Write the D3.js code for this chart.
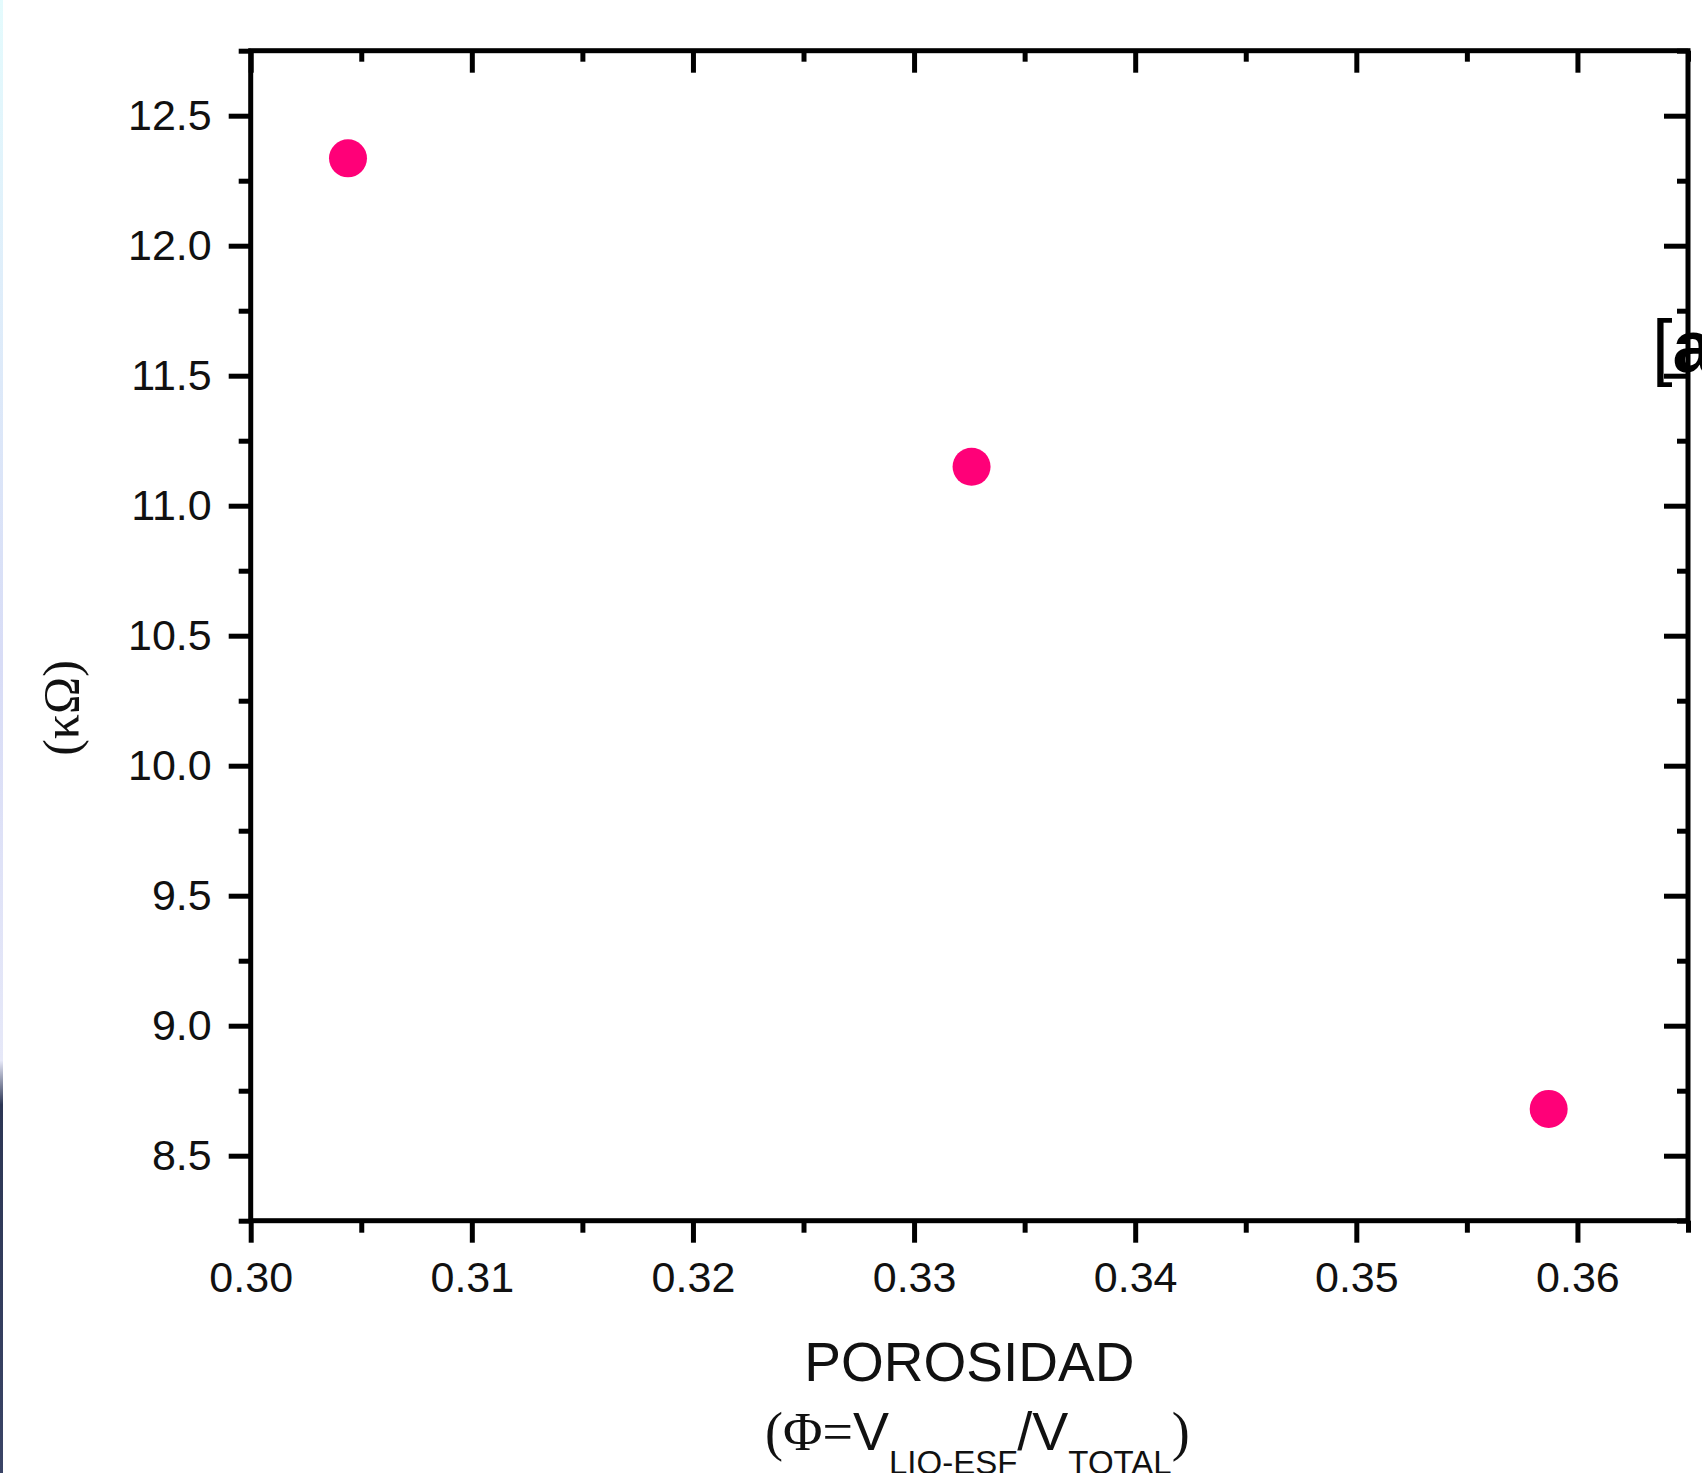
<!DOCTYPE html>
<html>
<head>
<meta charset="utf-8">
<script src="https://cdn.jsdelivr.net/npm/d3@7"></script>
<style>
  body { margin: 0; background: #fff; }
  svg { display: block; }
  .tick text { font-family: "Liberation Sans", Arial, sans-serif; font-size: 43px; fill: #111; }
</style>
</head>
<body>
<div id="chart"></div>
<script>
// porosity vs resistance, three samples
var porosidad = [0.3044, 0.3326, 0.3587];
var resistencia = [12.336, 11.15, 8.68];

// tick values
var xMajor = [0.30, 0.31, 0.32, 0.33, 0.34, 0.35, 0.36];
var xMinor = [0.305, 0.315, 0.325, 0.335, 0.345, 0.355, 0.365];
var yMajor = [8.5, 9.0, 9.5, 10.0, 10.5, 11.0, 11.5, 12.0, 12.5];
var yMinor = [8.25, 8.75, 9.25, 9.75, 10.25, 10.75, 11.25, 11.75, 12.25, 12.75];

var svgWidth = 1702;
var svgHeight = 1473;
var margin = {top: 50.7, right: 14, bottom: 252.3, left: 250.7};
var width = svgWidth - margin.left - margin.right;
var height = svgHeight - margin.top - margin.bottom;

var svg = d3.select("#chart")
    .append("svg")
    .attr("width", svgWidth)
    .attr("height", svgHeight);

// thin strip on the left edge of the picture
var grad = svg.append("defs").append("linearGradient")
    .attr("id", "edge")
    .attr("x1", 0).attr("y1", 0).attr("x2", 0).attr("y2", 1);
grad.append("stop").attr("offset", "0").attr("stop-color", "#e4fbfd");
grad.append("stop").attr("offset", "0.45").attr("stop-color", "#d8dcf6");
grad.append("stop").attr("offset", "0.72").attr("stop-color", "#e6e8f8");
grad.append("stop").attr("offset", "0.75").attr("stop-color", "#2c3654");
grad.append("stop").attr("offset", "1").attr("stop-color", "#3a4466");
svg.append("rect")
    .attr("x", 0).attr("y", 0)
    .attr("width", 3).attr("height", svgHeight)
    .attr("fill", "url(#edge)");

var chartGroup = svg.append("g")
    .attr("transform", `translate(${margin.left}, ${margin.top})`);

var x = d3.scaleLinear().domain([0.30, 0.365]).range([0, width]);
var y = d3.scaleLinear().domain([8.25, 12.75]).range([height, 0]);

function styleAxis(g) {
    g.select(".domain").remove();
    g.selectAll(".tick line").attr("stroke", "#000").attr("stroke-width", 5);
}

// bottom: outward ticks
chartGroup.append("g")
    .attr("transform", `translate(0, ${height})`)
    .call(d3.axisBottom(x).tickValues(xMajor).tickSize(22).tickPadding(19).tickFormat(d3.format(".2f")))
    .call(styleAxis);
chartGroup.append("g")
    .attr("transform", `translate(0, ${height})`)
    .call(d3.axisBottom(x).tickValues(xMinor).tickSize(12).tickFormat(""))
    .call(styleAxis);

// top: inward ticks
chartGroup.append("g")
    .call(d3.axisTop(x).tickValues(xMajor).tickSize(-22).tickFormat(""))
    .call(styleAxis);
chartGroup.append("g")
    .call(d3.axisTop(x).tickValues(xMinor).tickSize(-11).tickFormat(""))
    .call(styleAxis);

// left: outward ticks
chartGroup.append("g")
    .call(d3.axisLeft(y).tickValues(yMajor).tickSize(22).tickPadding(17).tickFormat(d3.format(".1f")))
    .call(styleAxis);
chartGroup.append("g")
    .call(d3.axisLeft(y).tickValues(yMinor).tickSize(12).tickFormat(""))
    .call(styleAxis);

// right: inward ticks
chartGroup.append("g")
    .attr("transform", `translate(${width}, 0)`)
    .call(d3.axisRight(y).tickValues(yMajor).tickSize(-24).tickFormat(""))
    .call(styleAxis);
chartGroup.append("g")
    .attr("transform", `translate(${width}, 0)`)
    .call(d3.axisRight(y).tickValues(yMinor).tickSize(-11).tickFormat(""))
    .call(styleAxis);

// frame
chartGroup.append("rect")
    .attr("width", width)
    .attr("height", height)
    .attr("fill", "none")
    .attr("stroke", "#000")
    .attr("stroke-width", 5);

// points
chartGroup.append("g")
    .selectAll("circle")
    .data(porosidad)
    .enter()
    .append("circle")
    .attr("cx", d => x(d))
    .attr("cy", (d, i) => y(resistencia[i]))
    .attr("r", 19)
    .attr("fill", "#ff0078");

// x label
var cx = margin.left + width / 2;
svg.append("text")
    .attr("x", cx)
    .attr("y", 1381)
    .attr("text-anchor", "middle")
    .style("font-family", "Liberation Sans, Arial, sans-serif")
    .style("font-size", "55px")
    .attr("fill", "#111")
    .text("POROSIDAD");

var sub = svg.append("text")
    .attr("x", cx + 8)
    .attr("y", 1450)
    .attr("text-anchor", "middle")
    .attr("fill", "#111")
    .style("font-family", "Liberation Sans, Arial, sans-serif")
    .style("font-size", "54px");
sub.append("tspan").style("font-family", "Liberation Serif, serif").text("(Φ=");
sub.append("tspan").text("V");
sub.append("tspan").attr("dy", 24).style("font-size", "33px").text("LIQ-ESF");
sub.append("tspan").attr("dy", -24).text("/V");
sub.append("tspan").attr("dy", 24).style("font-size", "33px").text("TOTAL");
sub.append("tspan").attr("dy", -24).style("font-family", "Liberation Serif, serif").text(")");

// y label
svg.append("text")
    .attr("transform", "translate(78, 708) rotate(-90)")
    .attr("text-anchor", "middle")
    .style("font-family", "Liberation Serif, serif")
    .style("font-size", "50px")
    .attr("fill", "#111")
    .text("(κΩ)");

// panel tag, cut by the right edge
svg.append("text")
    .attr("x", 1652)
    .attr("y", 372)
    .style("font-family", "Liberation Sans, Arial, sans-serif")
    .style("font-size", "74px")
    .attr("fill", "#000")
    .html('[<tspan font-weight="bold">a</tspan>]');
</script>
</body>
</html>
